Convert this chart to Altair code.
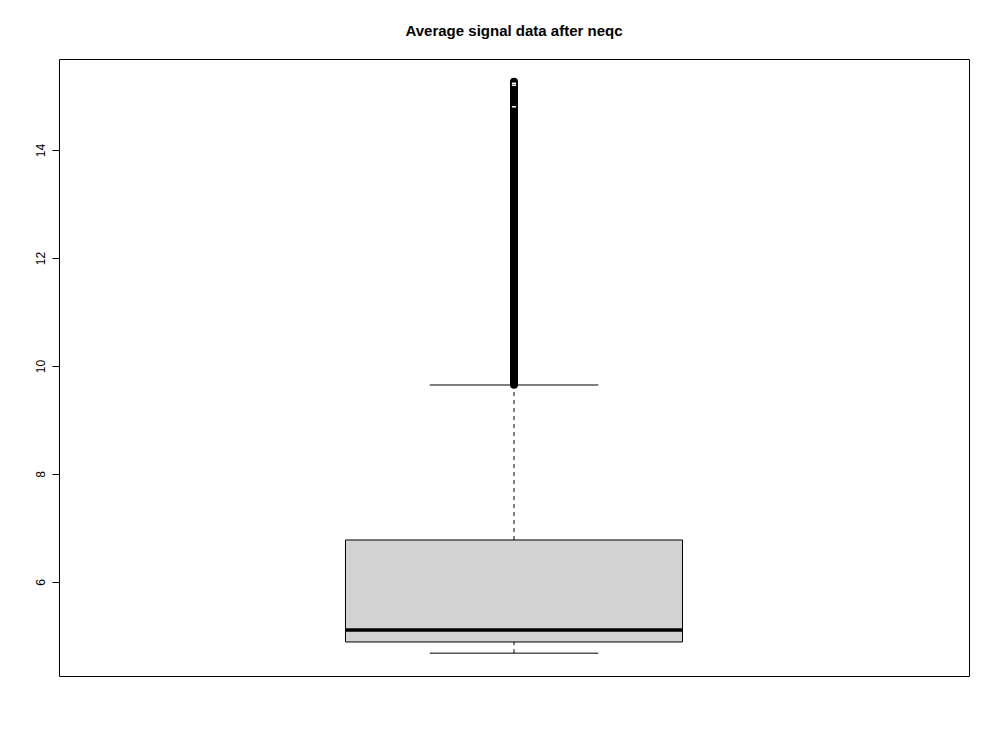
import altair as alt
import pandas as pd

# ---- data ----
categories = ["signal"]
q1 = [4.889]
median = [5.111]
q3 = [6.778]
whisker_lo = [4.682]
whisker_hi = [9.648]

# dense outlier band (drawn as a continuous run of circles in the original)
outlier_lo = [9.652]
outlier_hi = [15.262]
# small visible gaps inside the outlier band
outlier_gaps = [14.80, 15.20, 15.235]

y_ticks = [6, 8, 10, 12, 14]

FONT = "Liberation Sans"

box_df = pd.DataFrame({
    "group": categories, "q1": q1, "median": median, "q3": q3,
    "lo": whisker_lo, "hi": whisker_hi,
})
out_df = pd.DataFrame({"group": categories * len(outlier_lo), "lo": outlier_lo, "hi": outlier_hi})
gap_df = pd.DataFrame({"group": categories * len(outlier_gaps), "v": outlier_gaps})

xs = alt.Scale(domain=[0.46, 1.54], nice=False, zero=False)
ys = alt.Scale(domain=[4.259, 15.685], nice=False, zero=False)

def geom(chart):
    return chart.transform_calculate(
        xc="1", xl="1 - 0.2", xr="1 + 0.2", cl="1 - 0.1", cr="1 + 0.1",
        gl="1 - 0.0025", gr="1 + 0.0025",
    )

yaxis = alt.Axis(values=y_ticks, domain=False, grid=False, ticks=True,
                 tickColor="black", tickSize=7, tickWidth=1,
                 labelAngle=270, labelAlign="center", labelBaseline="bottom",
                 labelPadding=5, labelFontSize=12, labelFont=FONT,
                 labelColor="black", title=None)

box = geom(alt.Chart(box_df)).mark_rect(fill="#D3D3D3", stroke="black", strokeWidth=1).encode(
    x=alt.X("xl:Q", scale=xs, axis=None),
    x2="xr:Q",
    y=alt.Y("q1:Q", scale=ys, axis=yaxis),
    y2="q3:Q",
)

med = geom(alt.Chart(box_df)).mark_rule(color="black", strokeWidth=3.5).encode(
    x=alt.X("xl:Q", scale=xs, axis=None), x2="xr:Q",
    y=alt.Y("median:Q", scale=ys),
)

whisk_up = geom(alt.Chart(box_df)).mark_rule(color="black", strokeWidth=1, strokeDash=[4, 4]).encode(
    x=alt.X("xc:Q", scale=xs, axis=None),
    y=alt.Y("q3:Q", scale=ys), y2="hi:Q",
)
whisk_dn = geom(alt.Chart(box_df)).mark_rule(color="black", strokeWidth=1, strokeDash=[4, 4]).encode(
    x=alt.X("xc:Q", scale=xs, axis=None),
    y=alt.Y("lo:Q", scale=ys), y2="q1:Q",
)
cap_up = geom(alt.Chart(box_df)).mark_rule(color="black", strokeWidth=1).encode(
    x=alt.X("cl:Q", scale=xs, axis=None), x2="cr:Q",
    y=alt.Y("hi:Q", scale=ys),
)
cap_dn = geom(alt.Chart(box_df)).mark_rule(color="black", strokeWidth=1).encode(
    x=alt.X("cl:Q", scale=xs, axis=None), x2="cr:Q",
    y=alt.Y("lo:Q", scale=ys),
)

outliers = geom(alt.Chart(out_df)).mark_rule(color="black", strokeWidth=8, strokeCap="round").encode(
    x=alt.X("xc:Q", scale=xs, axis=None),
    y=alt.Y("lo:Q", scale=ys), y2="hi:Q",
)
gaps = geom(alt.Chart(gap_df)).mark_rule(color="white", strokeWidth=1.5).encode(
    x=alt.X("gl:Q", scale=xs, axis=None), x2="gr:Q",
    y=alt.Y("v:Q", scale=ys),
)

chart = alt.layer(box, med, whisk_up, whisk_dn, cap_up, cap_dn, outliers, gaps).properties(
    width=910, height=617,
    title=alt.TitleParams("Average signal data after neqc", font=FONT, fontSize=15,
                          fontWeight="bold", color="black", anchor="middle", offset=20),
    autosize=alt.AutoSizeParams(type="none"),
    padding={"left": 51, "top": 51, "right": 23, "bottom": 60},
    background="white",
).configure_view(stroke="black", strokeWidth=1, fill="white")

chart.save("out.html", embed_options={"renderer": "svg", "actions": False})
